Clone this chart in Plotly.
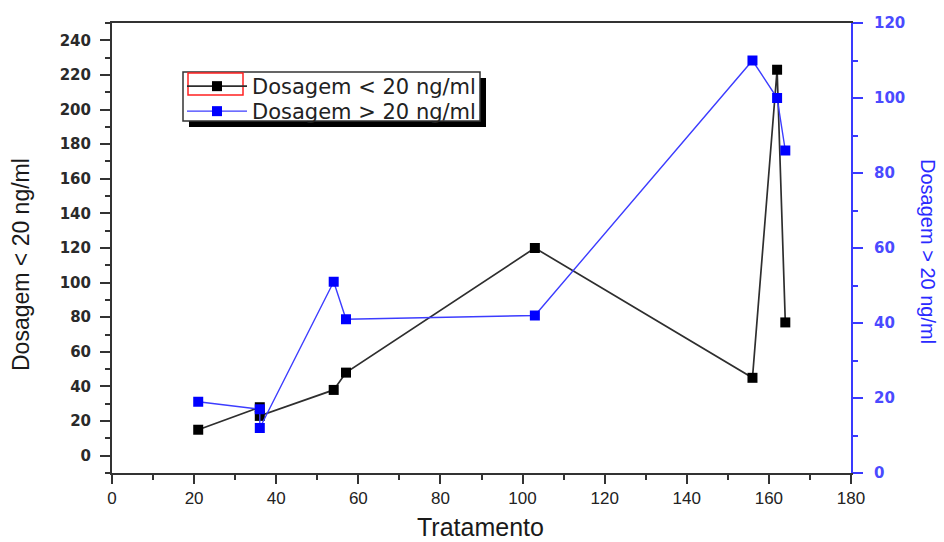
import plotly.graph_objects as go

# ---- data ----
tratamento = [21, 36, 36, 54, 57, 103, 156, 162, 164]
dosagem_menor = [15, 28, 23, 38, 48, 120, 45, 223, 77]
dosagem_maior = [19, 17, 12, 51, 41, 42, 110, 100, 86]

x_ticks = list(range(0, 181, 20))
y_left_ticks = list(range(0, 241, 20))
y_right_ticks = list(range(0, 121, 20))

name_menor = "Dosagem < 20 ng/ml"
name_maior = "Dosagem > 20 ng/ml"
x_title = "Tratamento"

# ---- geometry ----
W, H = 944, 542
ML, MR, MT, MB = 112, 93, 23, 69
PW, PH = W - ML - MR, H - MT - MB


def px(xp):
    return (xp - ML) / PW


def py(yp):
    return (H - MB - yp) / PH


AX = "#333333"
BLUE_AX = "#3a3aff"

fig = go.Figure()
fig.add_trace(go.Scatter(
    x=tratamento, y=dosagem_menor, name=name_menor, mode="lines+markers",
    line=dict(color="#2e2e2e", width=1.7),
    marker=dict(symbol="square", size=10, color="#000000"),
    legend="legend",
))
fig.add_trace(go.Scatter(
    x=tratamento, y=dosagem_maior, name=name_maior, mode="lines+markers",
    yaxis="y2",
    line=dict(color="#3c3cff", width=1.4),
    marker=dict(symbol="square", size=10, color="#0000ff"),
    legend="legend2",
))

tick_font_y = dict(family="DejaVu Sans", size=15, color="#2a2a2a", weight="bold")
tick_font_y2 = dict(family="DejaVu Sans", size=15, color="#4a4aff", weight="bold")
tick_font_x = dict(family="Liberation Sans", size=17, color="#222222")

legend_font = dict(family="DejaVu Sans", size=21, color="#222222")
leg_common = dict(xanchor="left", yanchor="top", bgcolor="rgba(0,0,0,0)",
                  borderwidth=0, font=legend_font, itemwidth=60)

fig.update_layout(
    width=W, height=H,
    margin=dict(l=ML, r=MR, t=MT, b=MB),
    paper_bgcolor="white", plot_bgcolor="white",
    showlegend=True,
    xaxis=dict(
        range=[0, 180], tickvals=x_ticks, showgrid=False, zeroline=False,
        showline=True, linecolor=AX, linewidth=2, mirror=True,
        ticks="outside", ticklen=9, tickwidth=2, tickcolor=AX,
        minor=dict(dtick=10, tick0=0, ticks="outside", ticklen=5, tickwidth=2, tickcolor=AX),
        tickfont=tick_font_x, ticklabelstandoff=0,
    ),
    yaxis=dict(
        range=[-10, 250], tickvals=y_left_ticks, showgrid=False, zeroline=False,
        showline=True, linecolor=AX, linewidth=2,
        ticks="outside", ticklen=10, tickwidth=2, tickcolor=AX,
        minor=dict(dtick=10, tick0=0, ticks="outside", ticklen=5, tickwidth=2, tickcolor=AX),
        tickfont=tick_font_y, ticklabelstandoff=6,
    ),
    yaxis2=dict(
        overlaying="y", side="right", anchor="x",
        range=[0, 120], tickvals=y_right_ticks, showgrid=False, zeroline=False,
        showline=True, linecolor=BLUE_AX, linewidth=2,
        ticks="outside", ticklen=10, tickwidth=2, tickcolor=BLUE_AX,
        minor=dict(dtick=10, tick0=0, ticks="outside", ticklen=5, tickwidth=2, tickcolor=BLUE_AX),
        tickfont=tick_font_y2, ticklabelstandoff=8,
    ),
    legend=dict(x=px(182), y=py(66), **leg_common),
    legend2=dict(x=px(182), y=py(91), **leg_common),
    annotations=[
        dict(text=name_menor, xref="paper", yref="paper", x=px(21), y=py(265),
             textangle=-90, showarrow=False, xanchor="center", yanchor="middle",
             font=dict(family="Liberation Sans", size=23, color="#1a1a1a")),
        dict(text=name_maior, xref="paper", yref="paper", x=px(928), y=py(251),
             textangle=90, showarrow=False, xanchor="center", yanchor="middle",
             font=dict(family="Liberation Sans", size=20, color="#2a2aff")),
        dict(text=x_title, xref="paper", yref="paper", x=px(480), y=py(527),
             showarrow=False, xanchor="center", yanchor="middle",
             font=dict(family="Liberation Sans", size=25, color="#1a1a1a")),
    ],
    shapes=[
        # legend drop shadow, box, and red selection box
        dict(type="rect", xref="paper", yref="paper", x0=px(189), x1=px(486), y0=py(127), y1=py(78),
             fillcolor="#000000", line=dict(width=0), layer="above"),
        dict(type="rect", xref="paper", yref="paper", x0=px(183), x1=px(480), y0=py(121), y1=py(72),
             fillcolor="#ffffff", line=dict(color="#333333", width=1.5), layer="above"),
        dict(type="rect", xref="paper", yref="paper", x0=px(188), x1=px(243), y0=py(95), y1=py(73),
             fillcolor="rgba(0,0,0,0)", line=dict(color="#ff2020", width=1.5), layer="above"),
    ],
)

fig.write_html("out.html", config={"displayModeBar": False},
               post_script="document.body.style.margin='0';")
